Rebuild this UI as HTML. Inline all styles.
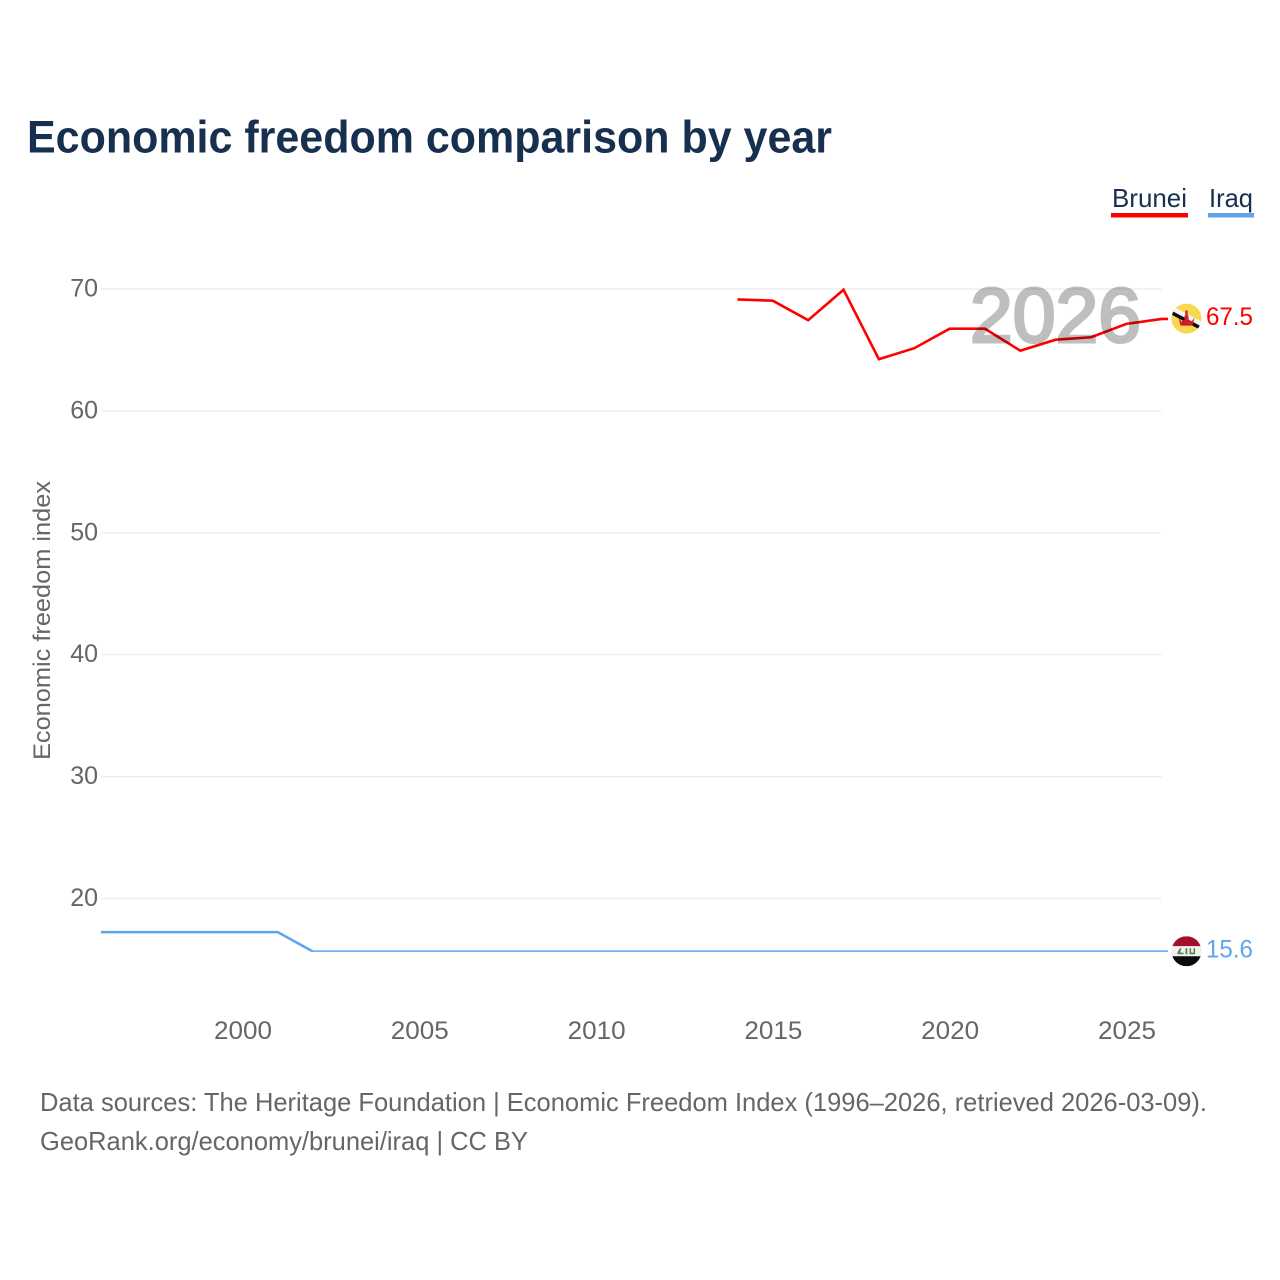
<!DOCTYPE html>
<html lang="en">
<head>
<meta charset="utf-8">
<title>Economic freedom comparison by year</title>
<style>
html,body{margin:0;padding:0;background:#fff;}
svg{display:block;}
text{font-family:"Liberation Sans",Arial,sans-serif;}
</style>
</head>
<body>
<svg id="chart" width="1280" height="1280" viewBox="0 0 1280 1280" xmlns="http://www.w3.org/2000/svg">
  <text x="27" y="152.5" font-size="45" font-weight="700" fill="#18304f" textLength="805" lengthAdjust="spacingAndGlyphs">Economic freedom comparison by year</text>

  <g id="grid"></g>
  <g id="yticks"></g>
  <g id="xticks"></g>
  <text transform="translate(50,620.5) rotate(-90)" text-anchor="middle" font-size="24" fill="#666666" textLength="279" lengthAdjust="spacingAndGlyphs">Economic freedom index</text>

  <g id="series" clip-path="url(#plotClip)"></g>

  <text x="970" y="342" font-size="77" fill="#000000" stroke="#000000" stroke-width="3" opacity="0.25" style="paint-order:stroke" textLength="171" lengthAdjust="spacingAndGlyphs">2026</text>

  <g>
    <text x="1112" y="207" font-size="26" fill="#18304f" textLength="75" lengthAdjust="spacingAndGlyphs">Brunei</text>
    <rect x="1111" y="213" width="77" height="4.5" fill="#ff0000"/>
  </g>
  <g>
    <text x="1209" y="207" font-size="26" fill="#18304f" textLength="44" lengthAdjust="spacingAndGlyphs">Iraq</text>
    <rect x="1208" y="213" width="46" height="4.5" fill="#5fa5ee"/>
  </g>

  <defs>
    <clipPath id="flagClip"><circle cx="0" cy="0" r="15"/></clipPath>
    <clipPath id="plotClip"><rect id="plotClipRect" x="0" y="0" width="1280" height="952"/></clipPath>
  </defs>
  <g id="flag-brunei">
    <g clip-path="url(#flagClip)">
      <rect x="-15" y="-15" width="30" height="30" fill="#f9d84f"/>
      <polygon points="-17,-14 -17,-7 17,11 17,4" fill="#f5f5f5"/>
      <polygon points="-17,-9 -17,-5 17,13 17,9" fill="#0d0d0d"/>
      <path d="M-8,-1 L-5,3 L-2,1 L-2,-3 L2,-3 L2,1 L5,3 L8,-1 L6,7 L-6,7 Z" fill="#d01c2a"/>
      <rect x="-1.2" y="-8" width="2.4" height="7" fill="#d01c2a"/>
    </g>
  </g>
  <g id="flag-iraq">
    <g clip-path="url(#flagClip)">
      <rect x="-15" y="-15" width="30" height="10" fill="#a40e2b"/>
      <rect x="-15" y="-5" width="30" height="10" fill="#f0f0f0"/>
      <rect x="-15" y="5" width="30" height="10" fill="#0a0a0a"/>
      <path d="M-9,3 H-3 V1.4 H-6.5 L-5,-3 H-6.6 L-9,1 Z M-1,-3 H0.8 V3 H-1 Z M3,-3 H4.6 V1.4 H7 V-3 H8.6 V3 H3 Z" fill="#5b8447"/>
    </g>
  </g>
  <g id="endlabels"></g>

  <text x="40" y="1111" font-size="26" fill="#666666" textLength="1167" lengthAdjust="spacingAndGlyphs">Data sources: The Heritage Foundation | Economic Freedom Index (1996–2026, retrieved 2026-03-09).</text>
  <text x="40" y="1150" font-size="26" fill="#666666" textLength="488" lengthAdjust="spacingAndGlyphs">GeoRank.org/economy/brunei/iraq | CC BY</text>
</svg>
<script>
var yTickValues = [70, 60, 50, 40, 30, 20];
var xTickYears = [2000, 2005, 2010, 2015, 2020, 2025];
var bruneiYears = [2014, 2015, 2016, 2017, 2018, 2019, 2020, 2021, 2022, 2023, 2024, 2025, 2026];
var bruneiValues = [69.1, 69.0, 67.4, 69.9, 64.2, 65.1, 66.7, 66.7, 64.9, 65.8, 66.0, 67.1, 67.5];
var iraqYears = [1996, 1997, 1998, 1999, 2000, 2001, 2002, 2003, 2004, 2005, 2006, 2007, 2008, 2009, 2010, 2011, 2012, 2013, 2014, 2015, 2016, 2017, 2018, 2019, 2020, 2021, 2022, 2023, 2024, 2025, 2026];
var iraqValues = [17.2, 17.2, 17.2, 17.2, 17.2, 17.2, 15.6, 15.6, 15.6, 15.6, 15.6, 15.6, 15.6, 15.6, 15.6, 15.6, 15.6, 15.6, 15.6, 15.6, 15.6, 15.6, 15.6, 15.6, 15.6, 15.6, 15.6, 15.6, 15.6, 15.6, 15.6];

var NS = 'http://www.w3.org/2000/svg';
function xScale(year) { return 242.4 + (year - 2000) * 35.36; }
function yScale(value) { return 288.5 + (70 - value) * 12.19; }
function make(tag, parent, attrs, txt) {
  var el = document.createElementNS(NS, tag);
  for (var k in attrs) { el.setAttribute(k, attrs[k]); }
  if (txt !== undefined) { el.textContent = txt; }
  parent.appendChild(el);
  return el;
}

var grid = document.getElementById('grid');
var yticks = document.getElementById('yticks');
yTickValues.forEach(function (v) {
  var gy = yScale(v) + 0.5;
  var line = make('line', grid, {x1: 101, x2: 1161.5, y1: gy, y2: gy, stroke: '#ebebeb', 'stroke-width': 1.2});
  
  
  var label = make('text', yticks, {x: 98, y: gy + 7.5, 'text-anchor': 'end', 'font-size': 25, fill: '#666666'}, String(v));
  
  
});

var xticks = document.getElementById('xticks');
xTickYears.forEach(function (year) {
  var label = make('text', xticks, {x: xScale(year) + 0.6, y: 1039, 'text-anchor': 'middle', 'font-size': 25, fill: '#666666', textLength: 58, lengthAdjust: 'spacingAndGlyphs'}, String(year));
  
  
});

var lowestValue = Math.min.apply(null, bruneiValues.concat(iraqValues));
document.getElementById('plotClipRect').setAttribute('height', yScale(lowestValue) + 0.3);

function drawSeries(name, years, values, color) {
  var pts = years.map(function (y, i) { return xScale(y).toFixed(2) + ',' + yScale(values[i]).toFixed(2); });
  pts.push('1168,' + yScale(values[values.length - 1]).toFixed(2));
  var line = make('polyline', document.getElementById('series'), {points: pts.join(' '), fill: 'none', stroke: color, 'stroke-width': 2.6, 'stroke-linejoin': 'miter'});
  
  
}
drawSeries('brunei', bruneiYears, bruneiValues, '#ff0000');
drawSeries('iraq', iraqYears, iraqValues, '#5fa5ee');

function endMarker(flagId, name, values, color) {
  var last = values[values.length - 1];
  var y = yScale(last);
  document.getElementById(flagId).setAttribute('transform', 'translate(1186.5,' + (y - 0.4).toFixed(2) + ')');
  var label = make('text', document.getElementById('endlabels'), {x: 1206, y: y + 6, 'font-size': 25, fill: color, textLength: 47, lengthAdjust: 'spacingAndGlyphs'}, last.toFixed(1));
  
  
}
endMarker('flag-brunei', 'brunei', bruneiValues, '#ff0000');
endMarker('flag-iraq', 'iraq', iraqValues, '#5fa5ee');
</script>
</body>
</html>
